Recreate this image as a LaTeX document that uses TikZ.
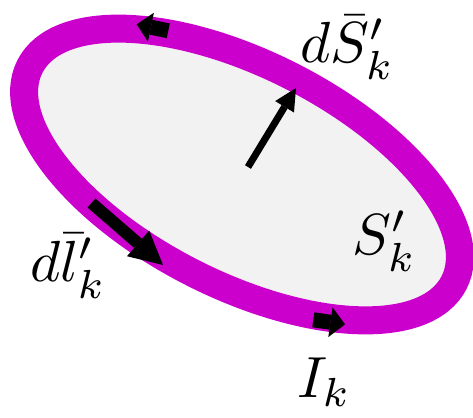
\documentclass[tikz,border=0pt]{standalone}
\usetikzlibrary{arrows.meta}
\definecolor{loopmag}{HTML}{CC00CC}
\definecolor{surfgray}{HTML}{F2F2F2}
\newcommand{\biglbl}[1]{\scalebox{5.8}{$#1$}}
\tikzset{
  loopband/.style={draw=loopmag, fill=surfgray, line width=28pt},
  vecarrow/.style args={#1/#2/#3}{draw=black, line width=#1, line cap=butt,
    -{Triangle[length=#2, width=#3, line width=0pt]}},
  lbl/.style={anchor=base west, inner sep=0pt},
}
\begin{document}
\begin{tikzpicture}[x=1pt,y=1pt]
\useasboundingbox (0,0) rectangle (473,417);
\coordinate (c) at (242,242.5);
\draw[loopband, rotate around={-27:(c)}] (c) ellipse [x radius=238, y radius=110];
% arrows
\coordinate (nS) at (248,250);
\coordinate (nE) at (296,329);
\draw[vecarrow=7pt/22pt/22pt] (nS) -- (nE);
\coordinate (dlS) at (91.5,214);
\coordinate (dlE) at (163,152);
\draw[vecarrow=12pt/33pt/34pt] (dlS) -- (dlE);
\coordinate (tlS) at (168.3,386.2);
\coordinate (tlE) at (136.7,392.7);
\draw[vecarrow=15pt/14.5pt/29.5pt] (tlS) -- (tlE);
\coordinate (brS) at (313.3,97.2);
\coordinate (brE) at (345,92.7);
\draw[vecarrow=15pt/14.7pt/30pt] (brS) -- (brE);
% labels
\node[lbl] (dS) at (300,354) {\biglbl{d\bar{S}'_k}};
\node[lbl] (dl) at (30,135) {\biglbl{d\bar{l}'_k}};
\node[lbl] (Ik) at (297,19) {\biglbl{I_k}};
\node[lbl] (Sk) at (352,162) {\biglbl{S'_k}};
\end{tikzpicture}
\end{document}
